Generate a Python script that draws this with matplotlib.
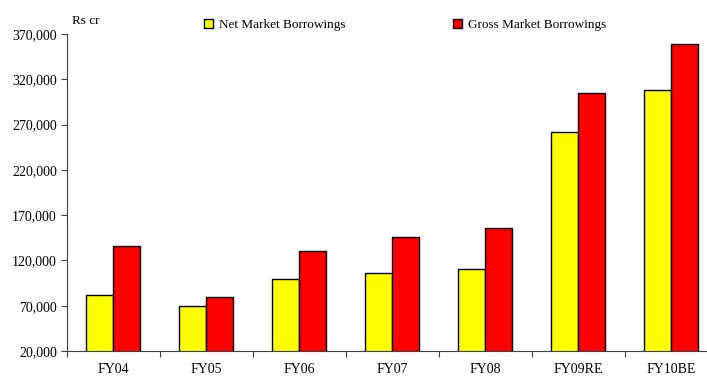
import matplotlib.pyplot as plt
import numpy as np
from matplotlib.patches import Patch

years = ['FY04', 'FY05', 'FY06', 'FY07', 'FY08', 'FY09RE', 'FY10BE']
net_borrowings = [82000, 70000, 99000, 106500, 110000, 261500, 308000]
gross_borrowings = [136000, 79500, 130000, 145500, 156000, 305000, 359500]

plt.rcParams['font.family'] = ['Liberation Serif', 'DejaVu Serif']
plt.rcParams['font.size'] = 9.5

fig = plt.figure(figsize=(7.07, 3.77), dpi=100)
ax = fig.add_axes([66.5 / 707, 1 - 351 / 377, 651 / 707, (351 - 34) / 377])

x = np.arange(len(years))
w = 0.287
ax.bar(x - w / 2, net_borrowings, w, color='#ffff00', edgecolor='black', linewidth=1)
ax.bar(x + w / 2, gross_borrowings, w, color='#ff0000', edgecolor='black', linewidth=1)

ax.set_xlim(-0.5, len(years) - 0.5)
ax.set_ylim(20000, 370000)
ax.set_yticks(np.arange(20000, 370001, 50000))
ax.set_yticklabels([f'{v:,}' for v in range(20000, 370001, 50000)], fontsize=10)

# boundary ticks between categories, labels at the centres
ax.set_xticks(np.arange(-0.5, len(years), 1))
ax.set_xticklabels([])
ax.set_xticks(x, minor=True)
ax.set_xticklabels(years, minor=True, fontsize=10)
ax.tick_params(axis='x', which='minor', length=0, pad=8.5)
ax.tick_params(axis='x', which='major', length=4, color='#404040')
ax.tick_params(axis='y', length=4, color='#404040', pad=3)

for s in ['top', 'right']:
    ax.spines[s].set_visible(False)
for s in ['left', 'bottom']:
    ax.spines[s].set_color('#404040')

fig.text(72 / 707, 1 - 21 / 377, 'Rs cr', va='center', ha='left')

handles = [Patch(facecolor='#ffff00', edgecolor='black', label='Net Market Borrowings'),
           Patch(facecolor='#ff0000', edgecolor='black', label='Gross Market Borrowings')]
fig.legend(handles=handles, ncol=2, frameon=False, loc='center left',
           bbox_to_anchor=(204 / 707, 1 - 25 / 377), borderpad=0, borderaxespad=0,
           handlelength=0.7, handleheight=0.7, handletextpad=0.4, columnspacing=8.2)

fig.savefig('out.png', dpi=100)
